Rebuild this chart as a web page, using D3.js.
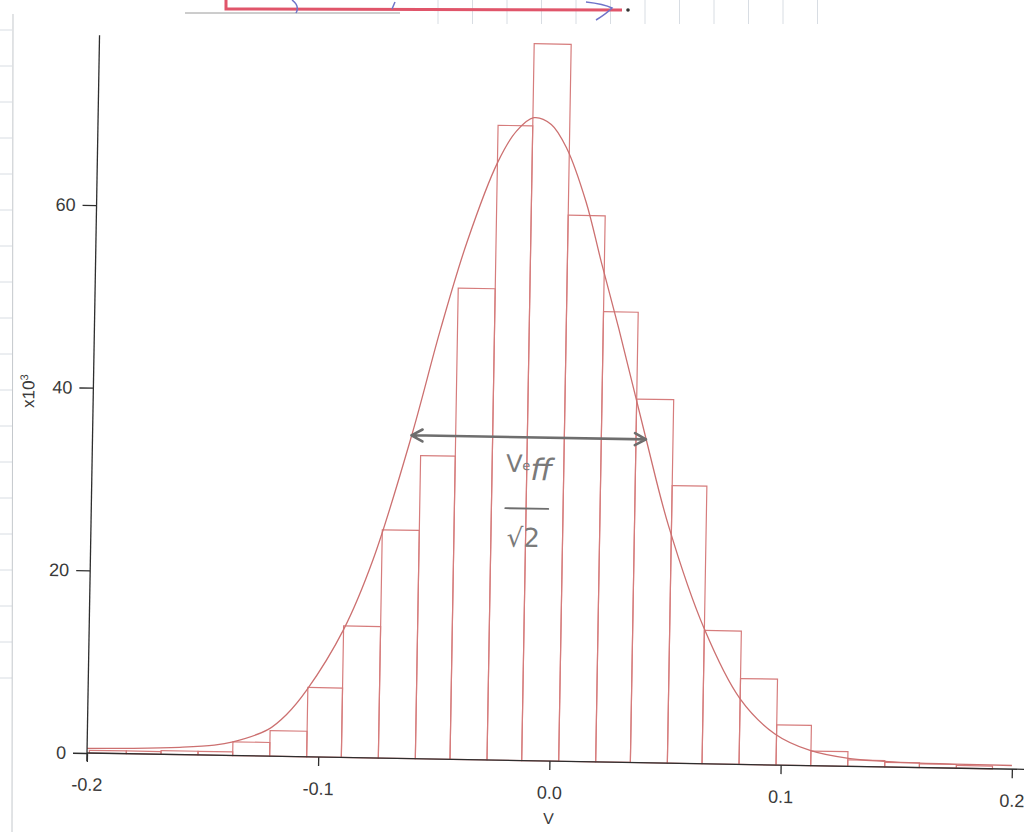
<!DOCTYPE html>
<html>
  <head>
    <meta charset="utf-8">
    <style type="text/css">
      body { margin:0; background:#fff; overflow:hidden; }
      svg text { font-family:"Liberation Sans",Arial,Helvetica,sans-serif; }
      .axis path, .axis line { stroke:#2e2e2e; stroke-width:1.3px; }
      .axis text { fill:#3a3a3a; font-size:18px; }
      .bar { fill:none; stroke:#d67c7c; stroke-width:1.2px; }
      .fit { fill:none; stroke:#cc7070; stroke-width:1.3px; }
      .note { stroke:#6e6e6e; stroke-width:2.6px; fill:none; stroke-linecap:round; stroke-linejoin:round; }
      .hand { fill:#7a7a7a; font-family:"DejaVu Sans",sans-serif; }
      .paper { stroke:#d8dde3; stroke-width:1px; }
    </style>
  </head>

  <body>
    <div id="canvas"></div>

    <script src="https://cdnjs.cloudflare.com/ajax/libs/d3/7.8.5/d3.min.js"></script>
    <script type="text/javascript">

    // histogram: left edge of each bin (V) and counts (x10^3)
    var binStart = [-0.199, -0.183, -0.168, -0.152, -0.137, -0.121, -0.105, -0.090, -0.074,
                    -0.058, -0.043, -0.027, -0.012, 0.004, 0.020, 0.035, 0.051, 0.066,
                    0.082, 0.098, 0.113, 0.129, 0.145, 0.160, 0.176];
    var binWidth = 0.0156;
    var counts = [0.3, 0.3, 0.4, 0.4, 1.5, 2.8, 7.6, 14.4, 25.0,
                  33.2, 51.6, 69.5, 78.5, 59.8, 49.3, 39.8, 30.4, 14.6,
                  9.4, 4.4, 1.6, 0.7, 0.5, 0.4, 0.3];

    // gauss fit curve
    var fitV = [-0.200, -0.180, -0.160, -0.145, -0.137, -0.122, -0.114, -0.1055, -0.090, -0.0778, -0.0621,
                -0.0503, -0.0395, -0.0268, -0.019, -0.0116, -0.004, 0.0029, 0.0116, 0.0187,
                0.0267, 0.0393, 0.0497, 0.0659, 0.0819, 0.0973, 0.1126, 0.130, 0.150, 0.175, 0.200];
    var fitY = [0.5, 0.6, 0.8, 1.1, 1.5, 2.9, 4.6, 7.3, 14.0, 21.7, 35.3,
                47.1, 56.7, 65.5, 68.9, 70.4, 69.7, 67.1, 61.3, 54.7,
                47.5, 35.5, 26.0, 14.8, 7.2, 3.4, 1.66, 0.84, 0.55, 0.45, 0.4];

    var xTicks = [-0.2, -0.1, 0.0, 0.1, 0.2];
    var yTicks = [0, 20, 40, 60];
    var xTitle = "V";

    // the printout is scanned slightly crooked
    var tilt = 1.0;

    (function() {
      var width = 1024, height = 832;
      var ox = 87, oy = 753;

      var svg = d3.select('#canvas').append('svg')
                  .attr('width', width)
                  .attr('height', height);

      // notebook paper around the pasted printout
      var paper = svg.append('g');
      d3.range(12).forEach(function (i) {
        paper.append('line').attr('class', 'paper')
          .attr('x1', 438 + i * 34.5).attr('x2', 438 + i * 34.5)
          .attr('y1', 0).attr('y2', 24);
      });
      d3.range(19).forEach(function (i) {
        paper.append('line').attr('class', 'paper')
          .attr('x1', 0).attr('x2', 12)
          .attr('y1', 30 + i * 36).attr('y2', 30 + i * 36);
      });
      paper.append('line').attr('class', 'paper')
        .style('stroke', '#c4c8cc')
        .attr('x1', 13).attr('x2', 12).attr('y1', 14).attr('y2', 832);
      paper.append('line').style('stroke', '#9a9a9a').style('stroke-width', 1)
        .attr('x1', 185).attr('x2', 400).attr('y1', 13).attr('y2', 13);
      paper.append('path')
        .attr('d', 'M226,0 L226,9 L622,10')
        .style('fill', 'none').style('stroke', '#e0556a').style('stroke-width', 3);
      paper.append('path')
        .attr('d', 'M292,0 Q300,6 296,13 M395,2 L392,9 M586,2 Q604,4 612,8 Q606,14 596,20')
        .style('fill', 'none').style('stroke', '#6f74c9').style('stroke-width', 1.5);
      paper.append('circle').attr('cx', 628).attr('cy', 10).attr('r', 1.8).style('fill', '#333');

      var x = d3.scaleLinear().domain([-0.2, 0.2]).range([ox, ox + 925]);
      var y = d3.scaleLinear().domain([0, 60]).range([oy, oy - 548]);

      var chart = svg.append('g')
                     .attr('transform', 'rotate(' + tilt + ',' + ox + ',' + oy + ')');

      // bins share their edges with the next one
      var bins = binStart.map(function (d, i) {
        var end = i < binStart.length - 1 ? binStart[i + 1] : d + binWidth;
        return {x0: d, x1: end, n: counts[i]};
      });

      chart.selectAll('rect.bar')
        .data(bins)
        .enter().append('rect')
          .attr('class', 'bar')
          .attr('x', function (d) { return x(d.x0); })
          .attr('width', function (d) { return x(d.x1) - x(d.x0); })
          .attr('y', function (d) { return y(d.n); })
          .attr('height', function (d) { return y(0) - y(d.n); });

      var line = d3.line()
                   .x(function (d, i) { return x(fitV[i]); })
                   .y(function (d) { return y(d); })
                   .curve(d3.curveCatmullRom.alpha(0.5));
      chart.append('path').attr('class', 'fit').attr('d', line(fitY));

      // axes
      var xAxis = d3.axisBottom(x)
                    .tickValues(xTicks)
                    .tickSize(9).tickSizeOuter(0).tickPadding(16)
                    .tickFormat(function (d) { return d.toFixed(1); });
      var gx = chart.append('g').attr('class', 'axis')
                    .attr('transform', 'translate(0,' + oy + ')')
                    .call(xAxis);
      gx.select('.domain').attr('d', 'M' + x(-0.2) + ',0H' + x(0.21));

      var yAxis = d3.axisLeft(y)
                    .tickValues(yTicks)
                    .tickSize(14).tickSizeOuter(0).tickPadding(7);
      var gy = chart.append('g').attr('class', 'axis')
                    .attr('transform', 'translate(' + ox + ',0)')
                    .call(yAxis);
      gy.select('.domain').attr('d', 'M0,' + (y(0) + 8) + 'V' + y(78.6));

      var yl = chart.append('text')
        .attr('transform', 'translate(28,' + y(39.5) + ') rotate(-90)')
        .attr('text-anchor', 'middle')
        .style('font-size', '17px').style('fill', '#3a3a3a');
      yl.append('tspan').text('x10');
      yl.append('tspan').attr('dy', '-0.6em').style('font-size', '11px').text('3');

      chart.append('text')
        .attr('x', x(0)).attr('y', oy + 63)
        .attr('text-anchor', 'middle')
        .style('font-size', '16px').style('fill', '#3a3a3a')
        .text(xTitle);

      // hand drawn width arrow and label
      var ay = y(35.4), ax1 = x(-0.0621), ax2 = x(0.0393);
      chart.append('path').attr('class', 'note')
        .attr('d', 'M' + ax1 + ',' + ay + 'H' + ax2 +
                   'M' + (ax1 + 11) + ',' + (ay - 6) + 'L' + ax1 + ',' + ay + 'L' + (ax1 + 11) + ',' + (ay + 6) +
                   'M' + (ax2 - 11) + ',' + (ay - 6) + 'L' + ax2 + ',' + ay + 'L' + (ax2 - 11) + ',' + (ay + 6));

      var hx = x(-0.021);
      var t1 = chart.append('text').attr('class', 'hand')
        .attr('x', hx).attr('y', y(31.6));
      t1.append('tspan').style('font-size', '24px').text('V');
      t1.append('tspan').style('font-size', '13px').attr('dy', '-2').text('e');
      t1.append('tspan').style('font-size', '30px').attr('dy', '10').style('font-style', 'italic').text('ff');

      chart.append('line').attr('class', 'note').style('stroke-width', 1.8)
        .attr('x1', hx).attr('x2', hx + 43)
        .attr('y1', y(27.6)).attr('y2', y(27.6));
      chart.append('text').attr('class', 'hand')
        .attr('x', hx + 2).attr('y', y(23.4))
        .style('font-size', '26px')
        .text('\u221A2');
    })();
    </script>
  </body>
</html>
